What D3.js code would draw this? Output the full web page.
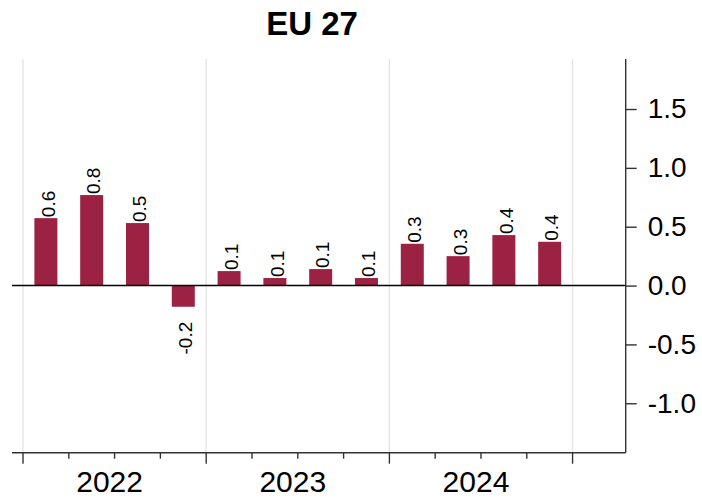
<!DOCTYPE html>
<html lang="en">
<head>
  <meta charset="UTF-8">
  <title>EU 27</title>
  <script src="https://d3js.org/d3.v7.min.js"></script>
  <style>
    body { margin: 0; background: white; font-family: "Liberation Sans", Arial, sans-serif; }
  </style>
</head>
<body>
  <svg width="702" height="499"></svg>
  <script>
    // quarterly values, 2022 Q1 .. 2024 Q4
    const quarters = ["2022Q1", "2022Q2", "2022Q3", "2022Q4", "2023Q1", "2023Q2", "2023Q3", "2023Q4", "2024Q1", "2024Q2", "2024Q3", "2024Q4"];
    const values = [0.573, 0.769, 0.531, -0.18, 0.123, 0.064, 0.14, 0.064, 0.355, 0.25, 0.429, 0.372];
    const labels = ["0.6", "0.8", "0.5", "-0.2", "0.1", "0.1", "0.1", "0.1", "0.3", "0.3", "0.4", "0.4"];
    const years = ["2022", "2023", "2024"];
    const yTicks = [-1.0, -0.5, 0.0, 0.5, 1.0, 1.5];

    const svg = d3.select("svg");
    const plotL = 12, plotR = 625.7, plotT = 59, plotB = 452.7;

    // x in quarter units, 0 = start of 2022
    const x = d3.scaleLinear().domain([-0.24, 13.16]).range([plotL, plotR]);
    const y = d3.scaleLinear().domain([-1.42, 1.925]).range([plotB, plotT]);
    const barW = 23;

    // title
    svg.append("text")
      .attr("x", 312).attr("y", 35)
      .attr("text-anchor", "middle")
      .attr("font-size", "33px").attr("font-weight", "bold")
      .text("EU 27");

    // vertical grid at year boundaries
    svg.selectAll(".grid")
      .data([0, 4, 8, 12])
      .enter().append("line")
      .attr("x1", d => x(d)).attr("x2", d => x(d))
      .attr("y1", plotT).attr("y2", plotB)
      .attr("stroke", "#e3e3e3").attr("stroke-width", 1.3);

    // bars
    svg.selectAll(".bar")
      .data(values)
      .enter().append("rect")
      .attr("x", (d, i) => x(i + 0.5) - barW / 2)
      .attr("width", barW)
      .attr("y", d => y(Math.max(0, d)))
      .attr("height", d => Math.abs(y(d) - y(0)))
      .attr("fill", "#9c2243");

    // zero line
    svg.append("line")
      .attr("x1", plotL).attr("x2", plotR)
      .attr("y1", y(0)).attr("y2", y(0))
      .attr("stroke", "black").attr("stroke-width", 1.6);

    // value labels
    svg.selectAll(".lbl")
      .data(values)
      .enter().append("text")
      .attr("transform", (d, i) => {
        const cx = x(i + 0.5) + 2;
        const yy = d >= 0 ? y(d) - 1 : y(d) + 15;
        return `translate(${cx},${yy}) rotate(-90)`;
      })
      .attr("dy", "0.35em")
      .attr("text-anchor", d => d >= 0 ? "start" : "end")
      .attr("font-size", "19px")
      .text((d, i) => labels[i]);

    // right y axis
    const yAxis = d3.axisRight(y)
      .tickValues(yTicks)
      .tickSize(11)
      .tickPadding(11)
      .tickFormat(d3.format(".1f"));
    const gy = svg.append("g")
      .attr("transform", `translate(${plotR},0)`)
      .call(yAxis);
    gy.select(".domain").attr("stroke", "#333").attr("stroke-width", 1.4).attr("d", `M0,${plotT}V${plotB}`);
    gy.selectAll(".tick line").attr("stroke", "#333").attr("stroke-width", 1.4);
    gy.selectAll(".tick text")
      .attr("font-size", "28px")
      .attr("font-family", "Liberation Sans, Arial, sans-serif")
      .attr("fill", "black")
      .text(d => d3.format(".1f")(d).replace("−", "-"));

    // bottom x axis
    const gx = svg.append("g").attr("transform", `translate(0,${plotB})`);
    gx.append("line")
      .attr("x1", plotL).attr("x2", plotR)
      .attr("stroke", "#333").attr("stroke-width", 1.4);
    gx.selectAll(".qt")
      .data(d3.range(0, 13))
      .enter().append("line")
      .attr("x1", d => x(d)).attr("x2", d => x(d))
      .attr("y1", 0).attr("y2", d => d % 4 === 0 ? 11 : 6)
      .attr("stroke", "#333").attr("stroke-width", 1.4);
    gx.selectAll(".yr")
      .data(years)
      .enter().append("text")
      .attr("x", (d, i) => x(i * 4 + 2) - 5)
      .attr("y", 39)
      .attr("text-anchor", "middle")
      .attr("font-size", "30px")
      .text(d => d);
  </script>
</body>
</html>
